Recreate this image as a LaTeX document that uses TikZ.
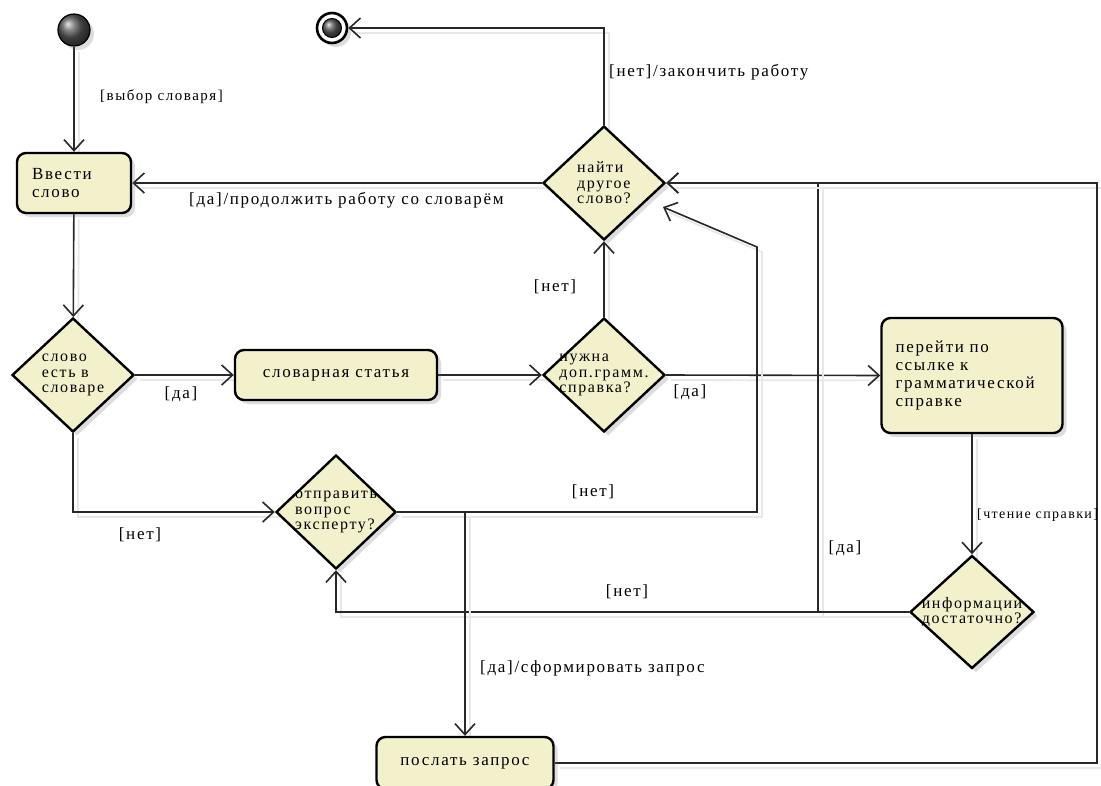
\documentclass[tikz,border=0pt]{standalone}
\usepackage{fontspec}
\setmainfont{Liberation Serif}[LetterSpace=10]
\usetikzlibrary{arrows.meta,shapes.geometric,shadows,calc}
\definecolor{cream}{RGB}{243,241,204}
\definecolor{ink}{RGB}{40,40,40}
\pgfdeclarelayer{paper}
\pgfdeclarelayer{wires}
\pgfsetlayers{paper,wires,main}
\tikzset{
  softshadow/.style={drop shadow={shadow xshift=4pt, shadow yshift=-4pt, opacity=0.22, fill=black!60}},
  actbox/.style={draw=black, line width=2.4pt, rounded corners=9pt, fill=cream,
    softshadow, font=\fontsize{17}{18}\selectfont, inner sep=0pt},
  decision/.style={diamond, draw=black, line width=2.4pt, fill=cream, inner sep=0pt,
    minimum width=122pt, minimum height=114pt, softshadow},
  dtext/.style={font=\fontsize{16}{15.5}\selectfont, align=left, inner sep=0pt},
  flow/.style={draw=ink, line width=1.6pt,
    preaction={draw=black!9, line width=1.8pt, -, transform canvas={shift={(5pt,-5pt)}}},
    -{Straight Barb[length=11pt, width=20pt, line width=1.6pt]}},
  lbl/.style={font=\fontsize{17}{18}\selectfont, inner sep=0pt},
}
\begin{document}
\begin{tikzpicture}[x=1pt, y=-1pt]
\useasboundingbox (0,0) rectangle (1101,785);
\begin{pgfonlayer}{paper}
  \fill[white] (0,0) rectangle (1101,785);
\end{pgfonlayer}

% initial and final nodes
\node[circle, minimum size=32pt, inner sep=0pt, draw=black, line width=1.2pt,
      ball color=black!65, softshadow] (start) at (74,30) {};
\node[circle, minimum size=30pt, inner sep=0pt, draw=black, line width=2.6pt,
      fill=white, softshadow] (end) at (332,28) {};
\node[circle, minimum size=19pt, inner sep=0pt, draw=black, line width=1pt,
      ball color=black!65] (enddot) at (end) {};

% actions
\node[actbox, minimum width=114pt, minimum height=60pt, text width=84pt, align=left]
  (in1) at (74,183) {Ввести\\слово};
\node[actbox, minimum width=202pt, minimum height=50pt]
  (art) at (336,375) {словарная статья};
\node[actbox, minimum width=181pt, minimum height=115pt, text width=153pt, align=left]
  (ref) at (972,375.5) {перейти по\\ссылке к\\грамматической\\справке};
\node[actbox, minimum width=177pt, minimum height=52pt]
  (send) at (465,763) {послать запрос};

% decisions
\node[decision, label={[dtext]center:{слово\\есть в\\словаре}}] (d1) at (73,375) {};
\node[decision, label={[dtext]center:{нужна\\доп.грамм.\\справка?}}] (d2) at (604,375) {};
\node[decision, minimum width=120pt, label={[dtext]center:{отправить\\вопрос\\эксперту?}}] (d3) at (336,512) {};
\node[decision, label={[dtext]center:{найти\\другое\\слово?}}] (d4) at (604,183) {};
\node[decision, minimum width=124pt, minimum height=113pt,
      label={[dtext]center:{информации\\достаточно?}}] (d5) at (972,612) {};

% bend points
\coordinate (up3) at (757,247);
\coordinate (tip3) at (663,207);
\coordinate (j1) at (818,612);
\coordinate (j2) at (1097,763);

% connectors, kept beneath the shapes
\begin{pgfonlayer}{wires}
\draw[flow] (start) -- (in1);
\draw[flow] (in1) -- (d1);
\draw[flow] (d1.east) -- (art.west);
\draw[flow] (art.east) -- (d2.west);
\draw[flow] (d2.north) -- (d4.south);
\draw[flow] (d4.north) |- (end.east);
\draw[flow] (d4.west) -- (in1.east);
\draw[flow] (d2.east) -- (ref.west);
\draw[flow] (ref.south) -- (d5.north);
\draw[flow] (d5.west) -- (j1) |- (d4.east);
\draw[flow] (d5.west) -| (d3.south);
\draw[flow] (d1.south) |- (d3.west);
\draw[flow] (d3.east) -| (up3) -- (tip3);
\draw[flow] (d3.east) -| (send.north);
\draw[flow] (send.east) -- (j2) |- (d4.east);
\end{pgfonlayer}

% guards
\node[lbl, font=\fontsize{15}{16}\selectfont, anchor=west] (g1) at (100,97) {[выбор словаря]};
\node[lbl, anchor=west] (g2) at (189,200) {[да]/продолжить работу со словарём};
\node[lbl, anchor=west] (g3) at (609,72) {[нет]/закончить работу};
\node[lbl] (g4) at (181,394) {[да]};
\node[lbl] (g5) at (555,287) {[нет]};
\node[lbl] (g6) at (690,392) {[да]};
\node[lbl] (g7) at (593,492) {[нет]};
\node[lbl] (g8) at (140,535) {[нет]};
\node[lbl] (g9) at (845,548) {[да]};
\node[lbl] (g10) at (627,592) {[нет]};
\node[lbl, font=\fontsize{14}{15}\selectfont, anchor=west] (g11) at (977,515) {[чтение справки]};
\node[lbl, anchor=west] (g12) at (480,668) {[да]/сформировать запрос};
\end{tikzpicture}
\end{document}
